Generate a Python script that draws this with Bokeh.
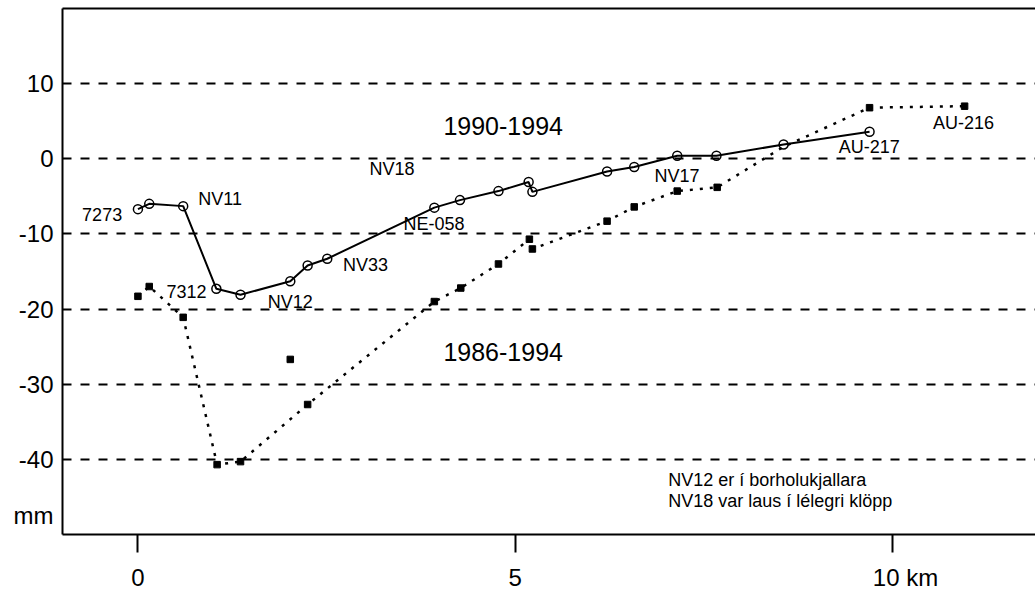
from bokeh.plotting import figure
from bokeh.models import FixedTicker, Range1d, LinearAxis
from bokeh.core.properties import value
from bokeh.embed import file_html
from bokeh.resources import INLINE

FONT = "Liberation Sans"

# 1990-1994 levelling (solid line, open circles)
km_90 = [0.0, 0.15, 0.6, 1.04, 1.36, 2.02, 2.25, 2.51, 3.93, 4.27, 4.78, 5.18, 5.23,
         6.22, 6.58, 7.15, 7.67, 8.56, 9.70]
mm_90 = [-6.7, -6.0, -6.3, -17.3, -18.1, -16.3, -14.2, -13.3, -6.5, -5.5, -4.3, -3.1, -4.4,
         -1.7, -1.1, 0.4, 0.4, 1.9, 3.6]

# 1986-1994 levelling (dotted line, filled squares)
km_86 = [0.0, 0.15, 0.6, 1.05, 1.36, 2.25, 3.93, 4.28, 4.78, 5.19, 5.23, 6.22, 6.58,
         7.15, 7.68, 8.56, 9.70, 10.96]
mm_86 = [-18.3, -17.0, -21.1, -40.7, -40.3, -32.7, -19.0, -17.2, -14.0, -10.7, -12.0, -8.3, -6.4,
         -4.3, -3.8, 1.6, 6.8, 7.0]
marked_86 = [True, True, True, True, True, True, True, True, True, True, True, True, True,
             True, True, False, True, True]

# NV12 (1986-1994), off the line
km_nv12 = [2.02]
mm_nv12 = [-26.7]

# station labels
st_text = ["7273", "NV11", "7312", "NV12", "NV33", "NV18", "NE-058", "NV17", "AU-217", "AU-216"]
st_x = [-0.74, 0.80, 0.38, 1.72, 2.72, 3.07, 3.52, 6.85, 9.29, 10.54]
st_y = [-7.4, -5.3, -17.7, -19.0, -14.2, -1.3, -8.7, -2.25, 1.6, 4.8]

period_text = ["1990-1994", "1986-1994"]
period_x = [4.05, 4.05]
period_y = [4.4, -25.7]

note_text = ["NV12 er í borholukjallara", "NV18 var laus í lélegri klöpp"]
note_x = [7.03, 7.03]
note_y = [-42.8, -45.5]

x_ticks = [0, 5, 10]
x_labels = ["0", "5", "\u00a0\u00a0\u00a0\u00a010 km"]
y_ticks = [10, 0, -10, -20, -30, -40]
y_labels = ["10", "0", "-10", "-20", "-30", "-40"]
y_unit_pos = -47.5
y_unit = "mm"

p = figure(width=1035, height=593, x_range=Range1d(-1.0, 11.9), y_range=Range1d(-50, 20),
           output_backend="svg", toolbar_location=None,
           min_border_left=62, min_border_right=0, min_border_top=8, min_border_bottom=56)
p.outline_line_color = None
p.background_fill_color = "white"
p.border_fill_color = "white"

# grid
p.xgrid.visible = False
p.ygrid.ticker = FixedTicker(ticks=y_ticks)
p.ygrid.grid_line_color = "black"
p.ygrid.grid_line_width = 2
p.ygrid.grid_line_dash = "9 9"

# x axis
xa = p.xaxis[0]
xa.ticker = FixedTicker(ticks=x_ticks)
xa.major_label_overrides = dict(zip(x_ticks, x_labels))
xa.axis_line_width = 2
xa.axis_line_color = "black"
xa.major_tick_line_width = 2
xa.major_tick_line_color = "black"
xa.major_tick_out = 18
xa.major_tick_in = 0
xa.minor_tick_line_color = None
xa.major_label_text_font = FONT
xa.major_label_text_font_size = "24px"
xa.major_label_text_color = "black"
xa.major_label_standoff = 11

# y axis
ya = p.yaxis[0]
ya.ticker = FixedTicker(ticks=y_ticks + [y_unit_pos])
ov = dict(zip(y_ticks, y_labels))
ov[y_unit_pos] = y_unit
ya.major_label_overrides = ov
ya.axis_line_width = 2
ya.axis_line_color = "black"
ya.major_tick_line_color = None
ya.major_tick_out = 0
ya.major_tick_in = 0
ya.minor_tick_line_color = None
ya.major_label_text_font = FONT
ya.major_label_text_font_size = "24px"
ya.major_label_text_color = "black"
ya.major_label_standoff = 9

# top border line (axis without ticks or labels)
top = LinearAxis(ticker=FixedTicker(ticks=[]), axis_line_width=2, axis_line_color="black",
                 major_tick_line_color=None, minor_tick_line_color=None,
                 major_tick_out=0, major_tick_in=0, major_label_standoff=0,
                 major_label_text_font_size="0px")
p.add_layout(top, "above")

# series
p.line(km_86, mm_86, line_color="black", line_width=2.5, line_dash="3 7")
p.scatter([k for k, m in zip(km_86, marked_86) if m], [v for v, m in zip(mm_86, marked_86) if m],
          marker="square", size=6.5, fill_color="black", line_color="black")
p.scatter(km_nv12, mm_nv12, marker="square", size=6.5, fill_color="black", line_color="black")

p.line(km_90, mm_90, line_color="black", line_width=2)
p.scatter(km_90, mm_90, marker="circle", size=9, fill_color=None, line_color="black", line_width=1.5)

# texts
p.text(st_x, st_y, text=st_text, text_font=value(FONT), text_font_size="18px",
       text_align="left", text_baseline="middle", text_color="black")
p.text(period_x, period_y, text=period_text, text_font=value(FONT), text_font_size="25px",
       text_align="left", text_baseline="middle", text_color="black")
p.text(note_x, note_y, text=note_text, text_font=value(FONT), text_font_size="18px",
       text_align="left", text_baseline="middle", text_color="black")

open("out.html", "w").write(file_html(p, INLINE))
